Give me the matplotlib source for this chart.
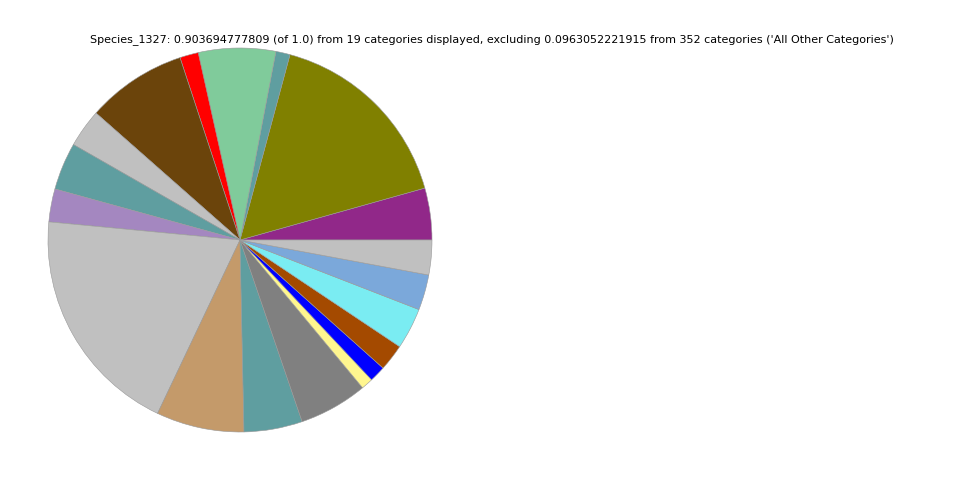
import matplotlib
matplotlib.use("Agg")
import matplotlib.pyplot as plt

# --- dati (frazione di 1.0) ---
valori = [0.0394, 0.1486, 0.0108, 0.0587, 0.0141, 0.0763, 0.0291, 0.0361,
          0.0251, 0.1757, 0.0668, 0.0444, 0.0522, 0.0090, 0.0123, 0.0203,
          0.0314, 0.0269, 0.0264]
colori = ['#912889', '#808000', '#5f9ea0', '#80cb9b', '#ff0000', '#6b440b',
          '#c0c0c0', '#5f9ea0', '#a487c0', '#c0c0c0', '#c49a6a', '#5f9ea0',
          '#808080', '#fff68f', '#0000ff', '#a44a00', '#7aecf2', '#7ba8da',
          '#c0c0c0']
titolo = ("Species_1327: 0.903694777809 (of 1.0) from 19 categories displayed, "
          "excluding 0.0963052221915 from 352 categories ('All Other Categories')")

fig = plt.figure(figsize=(9.6, 4.8), dpi=100)
ax = fig.add_axes([48 / 960, 48 / 480, 384 / 960, 384 / 480])
ax.pie(valori, colors=colori, startangle=0, counterclock=True, normalize=True,
       wedgeprops={'edgecolor': '#999999', 'linewidth': 0.4})
ax.set_xlim(-1, 1)
ax.set_ylim(-1, 1)
ax.set_aspect('equal')
ax.axis('off')

fig.text(492 / 960, 1 - 40 / 480, titolo, ha='center', va='center', fontsize=8)

fig.savefig('out.png', dpi=100)
